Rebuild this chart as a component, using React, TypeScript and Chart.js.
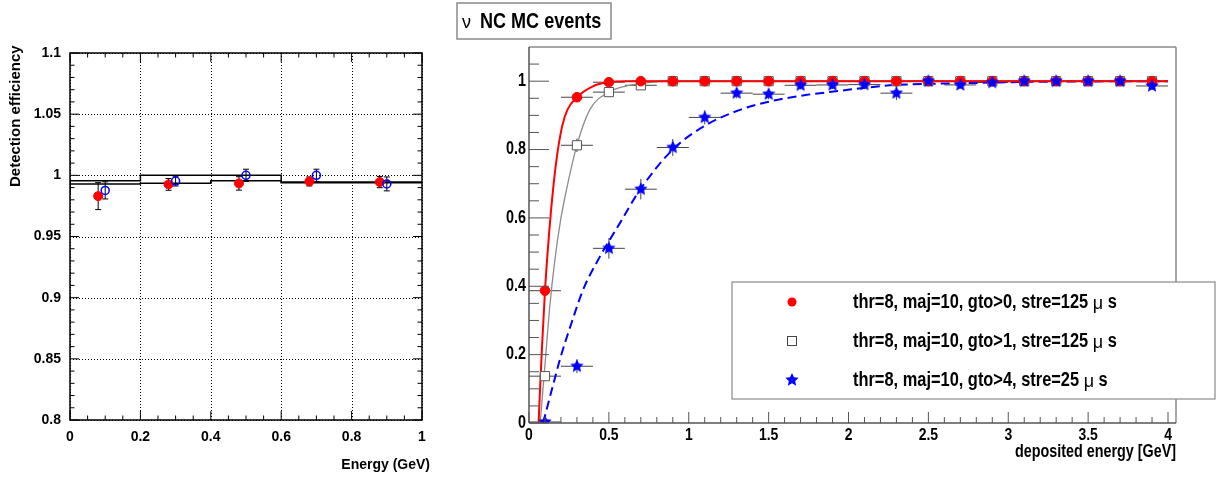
import React, { useEffect, useRef } from "react";
import { Chart, registerables } from "chart.js";
Chart.register(...registerables);

// ---------- LEFT PANEL DATA ----------
const leftBinEdges = [0, 0.2, 0.4, 0.6, 0.8, 1.0];
const leftHistA = [0.984, 0.993, 0.9935, 0.9955, 0.9945];
const leftHistB = [0.988, 0.9955, 1.0, 1.0, 0.994];
const leftRedX = [0.08, 0.28, 0.48, 0.68, 0.88];
const leftRedY = [0.983, 0.9926, 0.9934, 0.995, 0.9945];
const leftRedErr = [0.011, 0.0048, 0.0055, 0.0037, 0.0046];
const leftBlueX = [0.1, 0.3, 0.5, 0.7, 0.9];
const leftBlueY = [0.9877, 0.9953, 1.0, 1.0, 0.993];
const leftBlueErr = [0.007, 0.004, 0.005, 0.005, 0.0057];
const leftXTicks = [0, 0.2, 0.4, 0.6, 0.8, 1];
const leftXLabels = ["0", "0.2", "0.4", "0.6", "0.8", "1"];
const leftYTicks = [0.8, 0.85, 0.9, 0.95, 1, 1.05, 1.1];
const leftYLabels = ["0.8", "0.85", "0.9", "0.95", "1", "1.05", "1.1"];
const leftXTitle = "Energy (GeV)";
const leftYTitle = "Detection efficiency";

// ---------- RIGHT PANEL DATA ----------
const rightX = [0.1, 0.3, 0.5, 0.7, 0.9, 1.1, 1.3, 1.5, 1.7, 1.9, 2.1, 2.3, 2.5, 2.7, 2.9, 3.1, 3.3, 3.5, 3.7, 3.9];
const rightXHalfWidth = [0.1, 0.1, 0.1, 0.1, 0.1, 0.1, 0.1, 0.1, 0.1, 0.1, 0.1, 0.1, 0.1, 0.1, 0.1, 0.1, 0.1, 0.1, 0.1, 0.1];
const redY = [0.387, 0.953, 0.997, 1, 1, 1, 1, 1, 1, 1, 1, 1, 1, 1, 1, 1, 1, 1, 1, 1];
const redErr = [0.012, 0.006, 0.003, 0.002, 0.002, 0.002, 0.002, 0.002, 0.002, 0.002, 0.002, 0.002, 0.002, 0.002, 0.002, 0.002, 0.002, 0.002, 0.002, 0.002];
const grayY = [0.137, 0.8125, 0.968, 0.988, 1, 1, 1, 1, 1, 1, 1, 1, 1, 1, 1, 1, 1, 1, 1, 1];
const grayErr = [0.01, 0.02, 0.008, 0.005, 0.003, 0.003, 0.003, 0.003, 0.003, 0.003, 0.003, 0.003, 0.003, 0.003, 0.003, 0.003, 0.003, 0.003, 0.003, 0.003];
const blueY = [0.003, 0.166, 0.511, 0.684, 0.806, 0.894, 0.965, 0.962, 0.988, 0.989, 0.99, 0.965, 1.0, 0.989, 0.996, 1, 1, 1, 1, 0.986];
const blueErr = [0.005, 0.02, 0.03, 0.03, 0.025, 0.02, 0.015, 0.015, 0.012, 0.012, 0.012, 0.02, 0.008, 0.01, 0.008, 0.006, 0.006, 0.006, 0.006, 0.012];

const redCurveX = [0.06, 0.08, 0.1, 0.12, 0.144, 0.172, 0.207, 0.24, 0.3, 0.4, 0.5, 0.6, 4.0];
const redCurveY = [0, 0.21, 0.387, 0.52, 0.652, 0.77, 0.867, 0.916, 0.953, 0.985, 0.997, 1.0, 1.0];
const grayCurveX = [0.07, 0.1, 0.13, 0.16, 0.198, 0.234, 0.3, 0.38, 0.5, 0.6, 0.7, 0.9, 4.0];
const grayCurveY = [0, 0.17, 0.34, 0.47, 0.594, 0.681, 0.813, 0.916, 0.968, 0.985, 0.993, 1.0, 1.0];
const blueCurveX = [0.088, 0.15, 0.198, 0.265, 0.338, 0.443, 0.568, 0.693, 0.9, 1.11, 1.32, 1.53, 1.74, 1.95, 2.09, 2.3, 2.72, 3.13, 4.0];
const blueCurveY = [0, 0.11, 0.193, 0.291, 0.389, 0.486, 0.584, 0.681, 0.8, 0.872, 0.916, 0.943, 0.96, 0.972, 0.98, 0.989, 0.994, 0.998, 1.0];

const rightXTicks = [0, 0.5, 1, 1.5, 2, 2.5, 3, 3.5, 4];
const rightXLabels = ["0", "0.5", "1", "1.5", "2", "2.5", "3", "3.5", "4"];
const rightYTicks = [0, 0.2, 0.4, 0.6, 0.8, 1];
const rightYLabels = ["0", "0.2", "0.4", "0.6", "0.8", "1"];
const rightXTitle = "deposited energy [GeV]";
const titleGreek = "ν";
const titleText = "NC MC events";
const legendMain = ["thr=8, maj=10, gto>0, stre=125 ", "thr=8, maj=10, gto>1, stre=125 ", "thr=8, maj=10, gto>4, stre=25 "];
const legendMu = "μ";
const legendUnit = " s";

// ---------- STYLE ----------
const HELV = '"Liberation Sans", Arial, Helvetica, sans-serif';
const NS = 0.82; // horizontal squeeze emulating a narrow Helvetica
const RED = "#ff0000";
const BLUE = "#0000ff";

function makeStar(size: number, color: string) {
  const c = document.createElement("canvas");
  c.width = size;
  c.height = size;
  const g = c.getContext("2d")!;
  const cx = size / 2, cy = size / 2, R = size / 2, r = R * 0.48;
  g.beginPath();
  for (let i = 0; i < 10; i++) {
    const ang = -Math.PI / 2 + (i * Math.PI) / 5;
    const rad = i % 2 === 0 ? R : r;
    g.lineTo(cx + rad * Math.cos(ang), cy + rad * Math.sin(ang));
  }
  g.closePath();
  g.fillStyle = color;
  g.fill();
  return c;
}

const pts = (xs: number[], ys: number[]) => xs.map((x, i) => ({ x, y: ys[i] }));

function line(ctx: CanvasRenderingContext2D, x1: number, y1: number, x2: number, y2: number) {
  ctx.beginPath();
  ctx.moveTo(x1, y1);
  ctx.lineTo(x2, y2);
  ctx.stroke();
}

function narrowText(ctx: CanvasRenderingContext2D, text: string, x: number, y: number, size: number, align: string, weight = "bold") {
  ctx.save();
  ctx.font = `${weight} ${size}px ${HELV}`;
  ctx.textBaseline = "middle";
  ctx.textAlign = "left";
  const w = ctx.measureText(text).width * NS;
  let sx = x;
  if (align === "right") sx = x - w;
  else if (align === "center") sx = x - w / 2;
  ctx.translate(sx, y);
  ctx.scale(NS, 1);
  ctx.fillText(text, 0, 0);
  ctx.restore();
  return w;
}

// ---------- LEFT CHART ----------
const leftPlugin = {
  id: "leftDecor",
  beforeDatasetsDraw(chart: any) {
    const { ctx, chartArea: a, scales } = chart;
    const x = scales.x, y = scales.y;
    ctx.save();
    ctx.strokeStyle = "#000";
    ctx.lineWidth = 1;
    ctx.setLineDash([1, 2]);
    leftXTicks.forEach((v) => {
      const px = Math.round(x.getPixelForValue(v)) + 0.5;
      line(ctx, px, a.top, px, a.bottom);
    });
    leftYTicks.forEach((v) => {
      const py = Math.round(y.getPixelForValue(v)) + 0.5;
      line(ctx, a.left, py, a.right, py);
    });
    ctx.setLineDash([]);
    ctx.strokeStyle = "#000";
    ctx.lineWidth = 1;
    const drawErr = (xs: number[], ys: number[], es: number[]) => {
      xs.forEach((xv, i) => {
        const px = x.getPixelForValue(xv);
        const t = y.getPixelForValue(ys[i] + es[i]);
        const b = y.getPixelForValue(ys[i] - es[i]);
        line(ctx, px, t, px, b);
        line(ctx, px - 3, t, px + 3, t);
        line(ctx, px - 3, b, px + 3, b);
      });
    };
    drawErr(leftRedX, leftRedY, leftRedErr);
    drawErr(leftBlueX, leftBlueY, leftBlueErr);
    ctx.restore();
  },
  afterDraw(chart: any) {
    const { ctx, chartArea: a, scales } = chart;
    const x = scales.x, y = scales.y;
    ctx.save();
    ctx.strokeStyle = "#000";
    ctx.lineWidth = 1.5;
    ctx.strokeRect(a.left, a.top, a.right - a.left, a.bottom - a.top);
    ctx.lineWidth = 1;
    for (let k = 0; k <= 30; k++) {
      const v = 0.8 + k * 0.01;
      const py = y.getPixelForValue(v);
      const major = k % 5 === 0;
      const len = major ? 9 : 4.5;
      line(ctx, a.left, py, a.left + len, py);
      line(ctx, a.right, py, a.right - len, py);
    }
    for (let k = 0; k <= 20; k++) {
      const v = k * 0.05;
      const px = x.getPixelForValue(v);
      const major = k % 4 === 0;
      const len = major ? 9 : 4.5;
      line(ctx, px, a.bottom, px, a.bottom - len);
      line(ctx, px, a.top, px, a.top + len);
    }
    ctx.fillStyle = "#000";
    ctx.font = `bold 14px ${HELV}`;
    ctx.textAlign = "right";
    ctx.textBaseline = "middle";
    ctx.fillText(leftXTitle, 430, 465);
    ctx.translate(16, 187);
    ctx.rotate(-Math.PI / 2);
    ctx.font = `bold 15px ${HELV}`;
    ctx.textAlign = "left";
    ctx.fillText(leftYTitle, 0, 0);
    ctx.restore();
  },
};

function leftConfig(): any {
  return {
    type: "scatter",
    data: {
      datasets: [
        {
          data: pts(leftBlueX, leftBlueY),
          pointStyle: "circle",
          pointRadius: 4,
          backgroundColor: "rgba(255,255,255,0)",
          borderColor: BLUE,
          pointBorderWidth: 1.5,
          order: 0,
        },
        {
          data: pts(leftRedX, leftRedY),
          pointStyle: "circle",
          pointRadius: 4.5,
          backgroundColor: RED,
          borderColor: RED,
          order: 1,
        },
        {
          data: pts(leftBinEdges, [...leftHistA, leftHistA[leftHistA.length - 1]]),
          showLine: true,
          stepped: "after",
          borderColor: "#000",
          borderWidth: 1.5,
          pointRadius: 0,
          order: 2,
        },
        {
          data: pts(leftBinEdges, [...leftHistB, leftHistB[leftHistB.length - 1]]),
          showLine: true,
          stepped: "after",
          borderColor: "#000",
          borderWidth: 1.5,
          pointRadius: 0,
          order: 3,
        },
      ],
    },
    options: {
      animation: false,
      responsive: false,
      devicePixelRatio: 1,
      layout: { padding: { top: 53, right: 28, bottom: 0, left: 0 }, autoPadding: false },
      plugins: { legend: { display: false }, tooltip: { enabled: false }, title: { display: false } },
      scales: {
        x: {
          type: "linear",
          min: 0,
          max: 1,
          afterBuildTicks: (s: any) => {
            s.ticks = leftXTicks.map((v) => ({ value: v }));
          },
          afterFit: (s: any) => {
            s.height = 57;
          },
          grid: { display: false, drawTicks: false },
          border: { display: false },
          ticks: {
            autoSkip: false,
            maxRotation: 0,
            padding: 9,
            color: "#000",
            font: { family: HELV, size: 14, weight: "bold" },
            callback: (_v: any, i: number) => leftXLabels[i],
          },
        },
        y: {
          type: "linear",
          min: 0.8,
          max: 1.1,
          afterBuildTicks: (s: any) => {
            s.ticks = leftYTicks.map((v) => ({ value: v }));
          },
          afterFit: (s: any) => {
            s.width = 70;
          },
          grid: { display: false, drawTicks: false },
          border: { display: false },
          ticks: {
            autoSkip: false,
            padding: 9,
            color: "#000",
            font: { family: HELV, size: 14, weight: "bold" },
            callback: (_v: any, i: number) => leftYLabels[i],
          },
        },
      },
    },
    plugins: [leftPlugin],
  };
}

// ---------- RIGHT CHART ----------
function rightPluginFactory(star: HTMLCanvasElement) {
  return {
    id: "rightDecor",
    beforeDatasetsDraw(chart: any) {
      const { ctx, scales } = chart;
      const x = scales.x, y = scales.y;
      ctx.save();
      ctx.strokeStyle = "#444";
      ctx.lineWidth = 1;
      const drawErr = (ys: number[], es: number[]) => {
        rightX.forEach((xv, i) => {
          const px = x.getPixelForValue(xv);
          const py = y.getPixelForValue(ys[i]);
          line(ctx, x.getPixelForValue(xv - rightXHalfWidth[i]), py, x.getPixelForValue(xv + rightXHalfWidth[i]), py);
          line(ctx, px, y.getPixelForValue(ys[i] + es[i]), px, y.getPixelForValue(ys[i] - es[i]));
        });
      };
      drawErr(grayY, grayErr);
      drawErr(redY, redErr);
      drawErr(blueY, blueErr);
      ctx.restore();
    },
    afterDraw(chart: any) {
      const { ctx, chartArea: a, scales } = chart;
      const x = scales.x, y = scales.y;
      ctx.save();
      ctx.strokeStyle = "#8a8a8a";
      ctx.lineWidth = 1.5;
      line(ctx, a.left, a.top, a.right, a.top);
      line(ctx, a.right, a.top, a.right, a.bottom);
      ctx.strokeStyle = "#555";
      line(ctx, a.left, a.top, a.left, a.bottom);
      line(ctx, a.left, a.bottom, a.right, a.bottom);
      ctx.lineWidth = 1;
      for (let k = 0; k <= 21; k++) {
        const v = k * 0.05;
        const py = y.getPixelForValue(v);
        const major = k % 4 === 0;
        line(ctx, a.left, py, a.left + (major ? 20 : 10), py);
      }
      for (let k = 0; k <= 40; k++) {
        const v = k * 0.1;
        const px = x.getPixelForValue(v);
        const major = k % 5 === 0;
        line(ctx, px, a.bottom, px, a.bottom - (major ? 11 : 6));
      }
      ctx.fillStyle = "#000";
      rightYTicks.forEach((v, i) => {
        narrowText(ctx, rightYLabels[i], a.left - 3, y.getPixelForValue(v), 17.5, "right");
      });
      rightXTicks.forEach((v, i) => {
        narrowText(ctx, rightXLabels[i], x.getPixelForValue(v), a.bottom + 12, 17, "center");
      });
      narrowText(ctx, rightXTitle, a.right, 452, 17.5, "right");

      // title box
      ctx.fillStyle = "#fff";
      ctx.fillRect(7, 3, 154, 36);
      ctx.strokeStyle = "#8a8a8a";
      ctx.lineWidth = 1.5;
      ctx.strokeRect(7, 3, 154, 36);
      ctx.fillStyle = "#000";
      ctx.textAlign = "left";
      ctx.textBaseline = "middle";
      ctx.font = `18px ${HELV}`;
      ctx.fillText(titleGreek, 12, 23);
      narrowText(ctx, titleText, 30, 22, 22, "left");

      // legend box
      const lx = 282, ly = 282, lw = 483, lh = 117;
      ctx.fillStyle = "#fff";
      ctx.fillRect(lx, ly, lw, lh);
      ctx.strokeStyle = "#8a8a8a";
      ctx.lineWidth = 1.2;
      ctx.strokeRect(lx, ly, lw, lh);
      const rows = [302, 341, 380];
      const mx = 342;
      ctx.fillStyle = RED;
      ctx.beginPath();
      ctx.arc(mx, rows[0], 4.5, 0, Math.PI * 2);
      ctx.fill();
      ctx.fillStyle = "#fff";
      ctx.strokeStyle = "#444";
      ctx.lineWidth = 1;
      ctx.fillRect(mx - 4.5, rows[1] - 4.5, 9, 9);
      ctx.strokeRect(mx - 4.5, rows[1] - 4.5, 9, 9);
      ctx.drawImage(star, mx - star.width / 2, rows[2] - star.height / 2);
      ctx.fillStyle = "#000";
      rows.forEach((ry, i) => {
        let tx = 403;
        tx += narrowText(ctx, legendMain[i], tx, ry, 20, "left");
        ctx.font = `18px ${HELV}`;
        ctx.textAlign = "left";
        ctx.textBaseline = "middle";
        ctx.fillText(legendMu, tx, ry + 2);
        tx += ctx.measureText(legendMu).width;
        narrowText(ctx, legendUnit, tx, ry, 20, "left");
      });
      ctx.restore();
    },
  };
}

function rightConfig(star: HTMLCanvasElement): any {
  return {
    type: "scatter",
    data: {
      datasets: [
        { data: pts(rightX, blueY), pointStyle: star, pointRadius: 7, order: 0 },
        {
          data: pts(rightX, redY),
          pointStyle: "circle",
          pointRadius: 4.8,
          backgroundColor: RED,
          borderColor: RED,
          order: 1,
        },
        {
          data: pts(rightX, grayY),
          pointStyle: "rect",
          pointRadius: 6.5,
          backgroundColor: "#fff",
          borderColor: "#555",
          pointBorderWidth: 1,
          order: 2,
        },
        {
          data: pts(redCurveX, redCurveY),
          showLine: true,
          cubicInterpolationMode: "monotone",
          borderColor: RED,
          borderWidth: 2,
          pointRadius: 0,
          order: 3,
        },
        {
          data: pts(grayCurveX, grayCurveY),
          showLine: true,
          cubicInterpolationMode: "monotone",
          borderColor: "#8c8c8c",
          borderWidth: 1.3,
          pointRadius: 0,
          order: 4,
        },
        {
          data: pts(blueCurveX, blueCurveY),
          showLine: true,
          cubicInterpolationMode: "monotone",
          borderColor: BLUE,
          borderWidth: 2,
          borderDash: [9, 5],
          pointRadius: 0,
          order: 5,
        },
      ],
    },
    options: {
      animation: false,
      responsive: false,
      devicePixelRatio: 1,
      layout: { padding: { top: 47, right: 40, bottom: 0, left: 0 }, autoPadding: false },
      plugins: { legend: { display: false }, tooltip: { enabled: false }, title: { display: false } },
      scales: {
        x: {
          type: "linear",
          min: 0,
          max: 4.05,
          afterBuildTicks: (s: any) => {
            s.ticks = rightXTicks.map((v) => ({ value: v }));
          },
          afterFit: (s: any) => {
            s.height = 54;
          },
          grid: { display: false, drawTicks: false },
          border: { display: false },
          ticks: { display: false },
        },
        y: {
          type: "linear",
          min: 0,
          max: 1.1,
          afterBuildTicks: (s: any) => {
            s.ticks = rightYTicks.map((v) => ({ value: v }));
          },
          afterFit: (s: any) => {
            s.width = 79;
          },
          grid: { display: false, drawTicks: false },
          border: { display: false },
          ticks: { display: false },
        },
      },
    },
    plugins: [rightPluginFactory(star)],
  };
}

export default function App() {
  const leftRef = useRef<HTMLCanvasElement>(null);
  const rightRef = useRef<HTMLCanvasElement>(null);
  useEffect(() => {
    const star = makeStar(14, BLUE);
    const c1 = new Chart(leftRef.current!, leftConfig());
    const c2 = new Chart(rightRef.current!, rightConfig(star));
    return () => {
      c1.destroy();
      c2.destroy();
    };
  }, []);
  return (
    <div style={{ position: "fixed", left: 0, top: 0, width: 1216, height: 477, background: "#fff" }}>
      <canvas ref={leftRef} width={450} height={477} style={{ position: "absolute", left: 0, top: 0, width: 450, height: 477 }} />
      <canvas ref={rightRef} width={766} height={477} style={{ position: "absolute", left: 450, top: 0, width: 766, height: 477 }} />
    </div>
  );
}
